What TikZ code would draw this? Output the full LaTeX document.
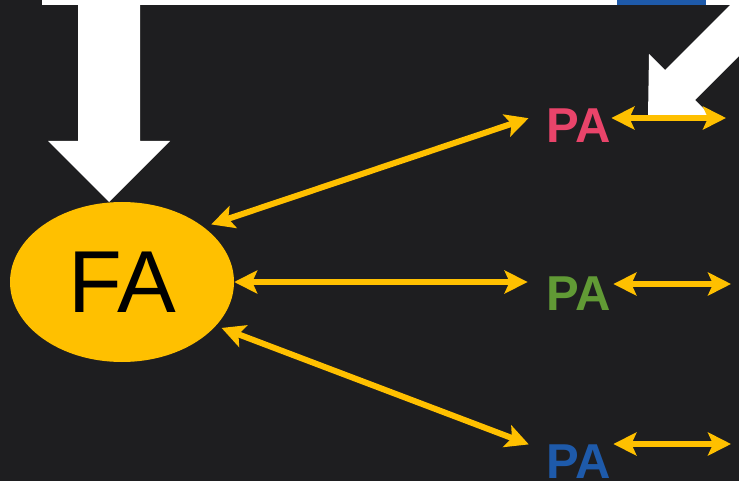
\documentclass[tikz,border=0pt]{standalone}
\usepackage{fontspec}
\setmainfont{Liberation Sans}
\usetikzlibrary{arrows.meta, shapes.geometric}
\definecolor{board}{RGB}{30,30,32}
\definecolor{gold}{RGB}{255,192,0}
\definecolor{parose}{RGB}{233,68,106}
\definecolor{pagreen}{RGB}{97,154,53}
\definecolor{pablue}{RGB}{30,90,170}

\begin{document}
\begin{tikzpicture}[x=1pt,y=-1pt]

\tikzset{fa/.style = {shape=ellipse, fill=gold, inner sep=0pt, minimum width=224pt, minimum height=160pt, font=\fontsize{88}{88}\selectfont}}
\tikzset{pa/.style = {inner sep=0pt, anchor=base, font=\fontsize{49}{49}\selectfont\bfseries}}
\tikzset{link/.style = {draw=gold, line width=6pt, > = {Stealth[length=23pt, width=23pt, inset=5pt]}, <->}}
\tikzset{bigarrow/.style = {fill=white}}

\useasboundingbox (0,0) rectangle (739,481);
\clip (0,0) rectangle (739,481);
\fill[board] (0,0) rectangle (739,481);
%boxes above
\fill[white] (42,-5) rectangle (735,5);
\fill[pablue] (617,-5) rectangle (706,5);
\fill[bigarrow] (78,-5) -- (140,-5) -- (140,141) -- (170,141) -- (109,202) -- (48,141) -- (78,141) -- cycle;
\fill[bigarrow] (765,-30) -- (825,-30) -- (695,100) -- (711,116) -- (648,117) -- (649,54) -- (665,70) -- cycle;
%verticies
\node[fa] (fa) at (122,282) {FA};
\node[pa, text=parose] (pa1) at (579,143) {PA};
\node[pa, text=pagreen] (pa2) at (579,310) {PA};
\node[pa, text=pablue] (pa3) at (579,478) {PA};
\coordinate (out1) at (726,118);
\coordinate (out2) at (731,284);
\coordinate (out3) at (731,444);
%edges
\draw[link, shorten <=8pt, shorten >=19pt] (fa.34) -- ([yshift=14pt]pa1.west);
\draw[link, shorten >=19pt] (fa.east) -- (fa.east -| pa2.west);
\draw[link, shorten <=6pt, shorten >=19pt] (fa.-25) -- ([yshift=10pt]pa3.west);
\draw[link] (out1 -| pa1.east) -- (out1);
\draw[link, shorten <=2pt] (out2 -| pa2.east) -- (out2);
\draw[link, shorten <=2pt] (out3 -| pa3.east) -- (out3);

\end{tikzpicture}
\end{document}
